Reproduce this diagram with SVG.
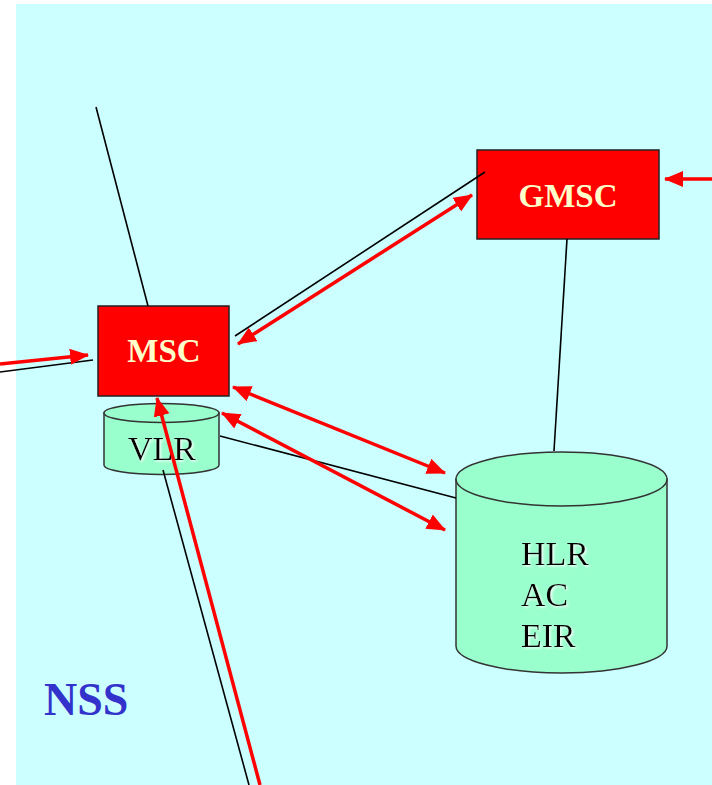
<svg xmlns="http://www.w3.org/2000/svg" width="712" height="785" viewBox="0 0 712 785">
<style>
.box{fill:#FF0000;stroke:#222;stroke-width:1.5}
.cyl{fill:#99FFCC;stroke:#333;stroke-width:1.5}
.lbl{font-family:"Liberation Serif","Times New Roman",serif;font-size:34px;fill:#000}
.blbl{font-family:"Liberation Serif","Times New Roman",serif;font-size:33px;font-weight:bold;fill:#FFFFCC}
.wire{stroke:#000;stroke-width:1.6;fill:none}
.sig{stroke:#FF0000;stroke-width:3.5;fill:none}
</style>
<defs>
<marker id="ah" markerUnits="userSpaceOnUse" markerWidth="19" markerHeight="17" refX="18" refY="8" orient="auto-start-reverse" viewBox="0 0 19 17">
<path d="M0,0 L19,8 L0,16 z" fill="#FF0000"/>
</marker>
<filter id="glow" x="-10%" y="-10%" width="120%" height="130%">
<feDropShadow dx="1.5" dy="1.5" stdDeviation="0.8" flood-color="#FFFFFF" flood-opacity="0.9"/>
</filter>
</defs>
<rect x="0" y="0" width="712" height="785" fill="#FFFFFF"/>
<rect x="16" y="4" width="696" height="781" fill="#CCFFFF"/>

<g id="msc">
<rect class="box" x="98" y="306" width="131" height="90"/>
<text class="blbl" x="164" y="362" text-anchor="middle">MSC</text>
</g>
<g id="vlr">
<path class="cyl" d="M104,413 L104,465 A57.5,9.5 0 0 0 219,465 L219,413 Z"/>
<ellipse class="cyl" cx="161.5" cy="413" rx="57.5" ry="9.5"/>
<text class="lbl" x="162" y="460" text-anchor="middle" filter="url(#glow)">VLR</text>
</g>
<g id="gmsc">
<rect class="box" x="477" y="150" width="182" height="89"/>
<text class="blbl" x="568" y="207" text-anchor="middle">GMSC</text>
</g>
<g id="hlr">
<path class="cyl" d="M456,479 L456,646 A105.5,27 0 0 0 667,646 L667,479 Z"/>
<ellipse class="cyl" cx="561.5" cy="479" rx="105.5" ry="27"/>
<text class="lbl" x="521" y="565" filter="url(#glow)">HLR</text>
<text class="lbl" x="521" y="606" filter="url(#glow)">AC</text>
<text class="lbl" x="521" y="647" filter="url(#glow)">EIR</text>
</g>
<g id="nss">
<text x="44" y="715" font-family="Liberation Serif,'Times New Roman',serif" font-size="46" font-weight="bold" fill="#3333CC">NSS</text>
</g>

<g id="connectors">
<line class="wire" x1="96" y1="107" x2="148" y2="306"/>
<line class="wire" x1="0" y1="372" x2="93" y2="360"/>
<line class="wire" x1="235" y1="336" x2="485" y2="172"/>
<line class="wire" x1="220" y1="436" x2="456" y2="498"/>
<line class="wire" x1="567" y1="239" x2="554" y2="451"/>
<line class="wire" x1="163" y1="470" x2="249" y2="785"/>
<line class="sig" x1="0" y1="364" x2="88" y2="355" marker-end="url(#ah)"/>
<line class="sig" x1="712" y1="179" x2="665" y2="179" marker-end="url(#ah)"/>
<line class="sig" x1="238" y1="344" x2="472" y2="195" marker-start="url(#ah)" marker-end="url(#ah)"/>
<line class="sig" x1="233" y1="387" x2="445" y2="473" marker-start="url(#ah)" marker-end="url(#ah)"/>
<line class="sig" x1="222" y1="413" x2="445" y2="530" marker-start="url(#ah)" marker-end="url(#ah)"/>
<line class="sig" x1="260" y1="785" x2="157" y2="398" marker-end="url(#ah)"/>
</g>
</svg>
